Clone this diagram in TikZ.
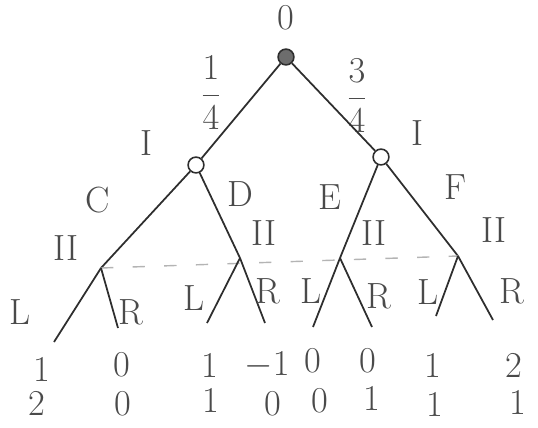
\documentclass[tikz,border=0pt]{standalone}
\usepackage{amsmath}
\usepackage{tikz}
\usepackage{xcolor}
\usetikzlibrary{positioning}
\definecolor{InkGray}{HTML}{2E2E2E}
\definecolor{PencilGray}{HTML}{4A4A4A}
\definecolor{FaintGray}{HTML}{B4B4B4}

\begin{document}
\begin{tikzpicture}[
      x=0.02cm,y=-0.02cm,
      font=\huge,
      text=PencilGray,
      chance/.style={circle,draw=InkGray,fill=InkGray!70,line width=0.9pt,inner sep=0pt,minimum size=9pt},
      decnode/.style={circle,draw=InkGray,fill=white,line width=0.9pt,inner sep=0pt,minimum size=9pt},
      edge/.style={draw=InkGray,line width=1.0pt},
      infoset/.style={draw=FaintGray,line width=0.8pt,dash pattern=on 7pt off 11pt},
      pay/.style={inner sep=1pt}
    ]
      \useasboundingbox (0,0) rectangle (538,427);
      % chance move and player I
      \node[chance] (root) at (286,57) {};
      \node (zero) at (286,18) {0};
      \node[decnode] (left) at (196,165) {};
      \node[decnode] (right) at (381,157) {};
      \node (pl) at (211,93) {$\dfrac{1}{4}$};
      \node (pr) at (357,96) {$\dfrac{3}{4}$};
      \node (Ia) at (146,143) {I};
      \node (Ib) at (417,133) {I};
      \draw[edge] (root) -- (left);
      \draw[edge] (root) -- (right);
      % player II nodes
      \coordinate (c) at (101,268);
      \coordinate (d) at (240,258);
      \coordinate (e) at (340,258);
      \coordinate (f) at (458,256);
      \draw[edge] (left) -- (c);
      \draw[edge] (left) -- (d);
      \draw[edge] (right) -- (e);
      \draw[edge] (right) -- (f);
      \node (C) at (98,200) {C};
      \node (D) at (240,194) {D};
      \node (E) at (330,197) {E};
      \node (F) at (455,187) {F};
      \node (IIa) at (66,248) {II};
      \node (IIb) at (264,233) {II};
      \node (IIc) at (374,233) {II};
      \node (IId) at (494,230) {II};
      \draw[infoset] (c) -- (f);
      % leaves
      \coordinate (c1) at (54,342);
      \coordinate (c2) at (118,328);
      \coordinate (d1) at (207,323);
      \coordinate (d2) at (265,323);
      \coordinate (e1) at (313,327);
      \coordinate (e2) at (372,327);
      \coordinate (f1) at (436,316);
      \coordinate (f2) at (493,320);
      \draw[edge] (c) -- (c1);
      \draw[edge] (c) -- (c2);
      \draw[edge] (d) -- (d1);
      \draw[edge] (d) -- (d2);
      \draw[edge] (e) -- (e1);
      \draw[edge] (e) -- (e2);
      \draw[edge] (f) -- (f1);
      \draw[edge] (f) -- (f2);
      \node (L1) at (20,312) {L};
      \node (R1) at (131,312) {R};
      \node (L2) at (194,298) {L};
      \node (R2) at (268,291) {R};
      \node (L3) at (311,291) {L};
      \node (R3) at (379,296) {R};
      \node (L4) at (428,292) {L};
      \node (R4) at (512,291) {R};
      % payoffs of I
      \node[pay] (u1) at (42,369) {1};
      \node[pay] (u2) at (122,365) {0};
      \node[pay] (u3) at (210,365) {1};
      \node[pay] (u4) at (267,365) {$-1$};
      \node[pay] (u5) at (313,361) {0};
      \node[pay] (u6) at (368,361) {0};
      \node[pay] (u7) at (433,365) {1};
      \node[pay] (u8) at (514,365) {2};
      % payoffs of II
      \node[pay] (v1) at (37,403) {2};
      \node[pay] (v2) at (123,404) {0};
      \node[pay] (v3) at (211,400) {1};
      \node[pay] (v4) at (273,404) {0};
      \node[pay] (v5) at (320,401) {0};
      \node[pay] (v6) at (372,398) {1};
      \node[pay] (v7) at (435,404) {1};
      \node[pay] (v8) at (518,402) {1};
    \end{tikzpicture}
\end{document}
